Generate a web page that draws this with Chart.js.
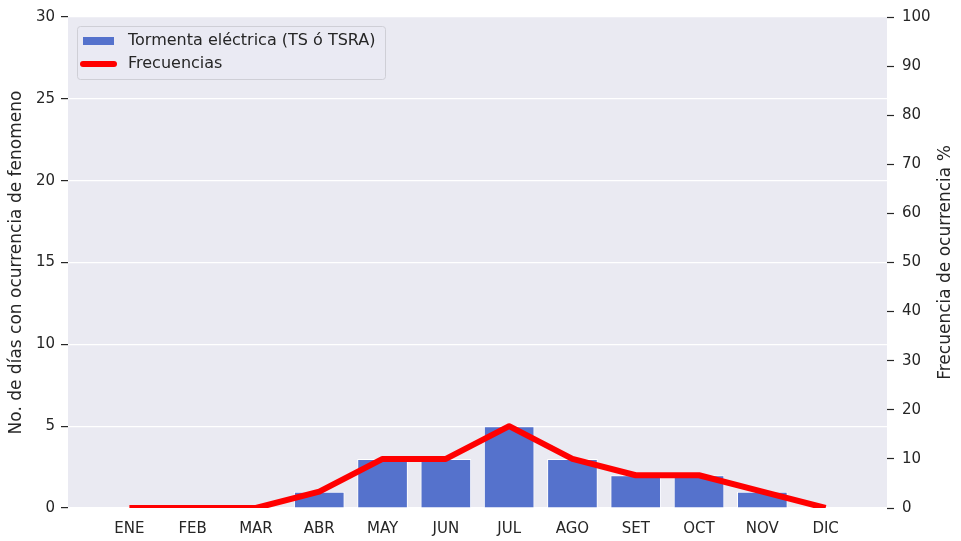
<!DOCTYPE html>
<html>
<head>
<meta charset="utf-8">
<script src="https://cdn.jsdelivr.net/npm/chart.js@4.4.0/dist/chart.umd.min.js"></script>
<style>
  html, body { margin: 0; padding: 0; background: #fff; }
  #wrap { width: 961px; height: 541px; }
</style>
</head>
<body>
<div id="wrap"><canvas id="chart"></canvas></div>
<script>
// datos
var meses = ['ENE', 'FEB', 'MAR', 'ABR', 'MAY', 'JUN', 'JUL', 'AGO', 'SET', 'OCT', 'NOV', 'DIC'];
var diasTormenta = [0, 0, 0, 1, 3, 3, 5, 3, 2, 2, 1, 0];
var frecuencias = [0, 0, 0, 3.33, 10, 10, 16.67, 10, 6.67, 6.67, 3.33, 0];
var ticksDias = [0, 5, 10, 15, 20, 25, 30];
var ticksFrec = [0, 10, 20, 30, 40, 50, 60, 70, 80, 90, 100];

var textColor = '#262626';
var fontFam = "'DejaVu Sans', sans-serif";

// fondo del area de trazado
var fondoPlugin = {
  id: 'fondo',
  beforeDraw: function(chart) {
    var a = chart.chartArea, ctx = chart.ctx;
    ctx.save();
    ctx.fillStyle = '#EAEAF2';
    ctx.fillRect(a.left, a.top, a.right - a.left, a.bottom - a.top);
    ctx.restore();
  }
};

// titulo del eje derecho (leido de abajo hacia arriba, como en matplotlib)
var tituloDerPlugin = {
  id: 'tituloDer',
  afterDraw: function(chart) {
    var ctx = chart.ctx, a = chart.chartArea;
    ctx.save();
    ctx.translate(946, (a.top + a.bottom) / 2);
    ctx.rotate(-Math.PI / 2);
    ctx.font = '17px ' + fontFam;
    ctx.fillStyle = textColor;
    ctx.textAlign = 'center';
    ctx.textBaseline = 'middle';
    ctx.fillText('Frecuencia de ocurrencia %', 0, 0);
    ctx.restore();
  }
};

// leyenda dentro del grafico (arriba a la izquierda)
var leyendaPlugin = {
  id: 'leyenda',
  afterDraw: function(chart) {
    var ctx = chart.ctx;
    var a = chart.chartArea;
    var x = a.left + 9, y = a.top + 9, w = 308, h = 53;
    ctx.save();
    ctx.fillStyle = 'rgba(234,234,242,0.8)';
    ctx.strokeStyle = '#cfcfd6';
    ctx.lineWidth = 1;
    ctx.beginPath();
    ctx.roundRect(x + 0.5, y + 0.5, w, h, 3);
    ctx.fill();
    ctx.stroke();

    var ds = chart.data.datasets;
    ctx.font = '16px ' + fontFam;
    ctx.textBaseline = 'middle';
    // barras
    ctx.fillStyle = ds[1].backgroundColor;
    ctx.fillRect(x + 6, y + 11, 31, 8);
    ctx.fillStyle = textColor;
    ctx.fillText(ds[1].label, x + 51, y + 15);
    // linea
    ctx.strokeStyle = ds[0].borderColor;
    ctx.lineWidth = 6;
    ctx.lineCap = 'round';
    ctx.beginPath();
    ctx.moveTo(x + 6, y + 38);
    ctx.lineTo(x + 37, y + 38);
    ctx.stroke();
    ctx.fillText(ds[0].label, x + 51, y + 38);
    ctx.restore();
  }
};

new Chart(document.getElementById('chart'), {
  type: 'bar',
  data: {
    datasets: [
      {
        type: 'line',
        label: 'Frecuencias',
        data: frecuencias.map(function(v, i) { return { x: i, y: v }; }),
        yAxisID: 'y2',
        borderColor: '#ff0000',
        borderWidth: 6,
        pointRadius: 0,
        borderJoinStyle: 'round',
        tension: 0,
        order: 0
      },
      {
        type: 'bar',
        label: 'Tormenta eléctrica (TS ó TSRA)',
        data: diasTormenta.map(function(v, i) { return { x: i, y: v }; }),
        yAxisID: 'y',
        backgroundColor: '#5572cc',
        borderColor: '#ffffff',
        borderWidth: 1,
        barPercentage: 0.8,
        categoryPercentage: 1,
        order: 1
      }
    ]
  },
  options: {
    responsive: true,
    maintainAspectRatio: false,
    animation: false,
    layout: { padding: { top: 17, right: 0, left: 0, bottom: 0 } },
    plugins: {
      legend: { display: false },
      tooltip: { enabled: false }
    },
    scales: {
      x: {
        type: 'linear',
        offset: false,
        min: -0.97,
        max: 11.97,
        grid: { display: false },
        border: { display: false },
        afterBuildTicks: function(scale) {
          scale.ticks = meses.map(function(m, i) { return { value: i }; });
        },
        afterFit: function(scale) { scale.height = 33; },
        ticks: {
          autoSkip: false,
          maxRotation: 0,
          padding: 4,
          color: textColor,
          font: { size: 15, family: fontFam },
          callback: function(v) { return meses[v]; }
        }
      },
      y: {
        position: 'left',
        min: 0,
        max: 30,
        afterBuildTicks: function(scale) {
          scale.ticks = ticksDias.map(function(v) { return { value: v }; });
        },
        afterFit: function(scale) { scale.width = 68; },
        grid: { color: '#ffffff', lineWidth: 1.2, tickColor: textColor, tickLength: 7, tickWidth: 1.2 },
        border: { display: false },
        ticks: { padding: 6, color: textColor, font: { size: 15, family: fontFam } },
        title: {
          display: true,
          text: 'No. de días con ocurrencia de fenomeno',
          color: textColor,
          font: { size: 17, family: fontFam },
          padding: { top: 6, bottom: 4 }
        }
      },
      y2: {
        position: 'right',
        min: 0,
        max: 100,
        afterBuildTicks: function(scale) {
          scale.ticks = ticksFrec.map(function(v) { return { value: v }; });
        },
        afterFit: function(scale) { scale.width = 74; },
        grid: { drawOnChartArea: false, tickColor: textColor, tickLength: 7, tickWidth: 1.2 },
        border: { display: false },
        ticks: { padding: 8, color: textColor, font: { size: 15, family: fontFam } }
      }
    }
  },
  plugins: [fondoPlugin, tituloDerPlugin, leyendaPlugin]
});
</script>
</body>
</html>
